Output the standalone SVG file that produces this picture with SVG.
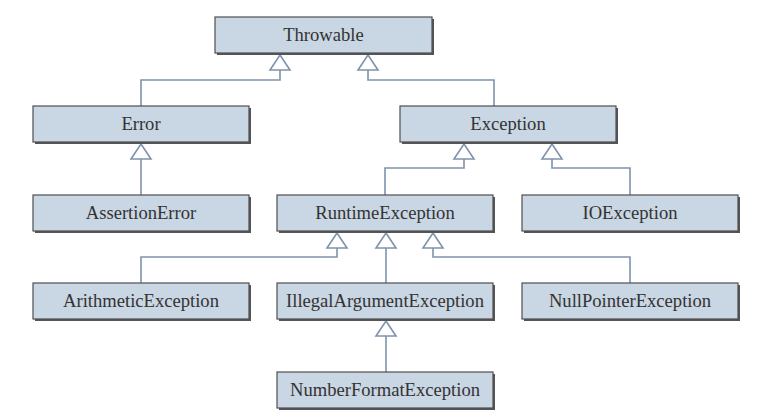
<svg xmlns="http://www.w3.org/2000/svg" width="760" height="418" viewBox="0 0 760 418">
<style>
.box{fill:#c9d6e4;stroke:#4f4f4f;stroke-width:1.2}
.shadow{fill:#555}
.lbl{font-family:"Liberation Serif","Times New Roman",serif;font-size:18.6px;fill:#333;text-anchor:middle}
.conn{fill:none;stroke:#7f93ac;stroke-width:1.6;marker-end:url(#tri)}
</style>
<defs>
<marker id="tri" markerUnits="userSpaceOnUse" markerWidth="20" markerHeight="24" refX="15" refY="0" orient="auto" overflow="visible">
<path d="M0,-10 L15,0 L0,10 Z" fill="#fff" stroke="#7f93ac" stroke-width="1.6"/>
</marker>
</defs>
<rect width="760" height="418" fill="#fff"/>
<g id="connectors">
<path class="conn" d="M141,106 V80 H280 V55"/>
<path class="conn" d="M494,106 V80 H368 V55"/>
<path class="conn" d="M141,195 V144"/>
<path class="conn" d="M385,195 V168 H464 V144"/>
<path class="conn" d="M630,195 V168 H552 V144"/>
<path class="conn" d="M141,283 V257 H337 V233"/>
<path class="conn" d="M386,283 V233"/>
<path class="conn" d="M630,283 V257 H433 V233"/>
<path class="conn" d="M386,372 V321"/>
</g>
<g id="Throwable"><rect class="shadow" x="217" y="19" width="217" height="36"/><rect class="box" x="215" y="17" width="217" height="36"/><text class="lbl" x="323.5" y="41">Throwable</text></g>
<g id="Error"><rect class="shadow" x="35" y="108" width="216" height="36"/><rect class="box" x="33" y="106" width="216" height="36"/><text class="lbl" x="141" y="130">Error</text></g>
<g id="Exception"><rect class="shadow" x="402" y="108" width="216" height="36"/><rect class="box" x="400" y="106" width="216" height="36"/><text class="lbl" x="508" y="130">Exception</text></g>
<g id="AssertionError"><rect class="shadow" x="35" y="197" width="216" height="36"/><rect class="box" x="33" y="195" width="216" height="36"/><text class="lbl" x="141" y="219">AssertionError</text></g>
<g id="RuntimeException"><rect class="shadow" x="279" y="197" width="216" height="36"/><rect class="box" x="277" y="195" width="216" height="36"/><text class="lbl" x="385" y="219">RuntimeException</text></g>
<g id="IOException"><rect class="shadow" x="524" y="197" width="216" height="36"/><rect class="box" x="522" y="195" width="216" height="36"/><text class="lbl" x="630" y="219">IOException</text></g>
<g id="ArithmeticException"><rect class="shadow" x="35" y="285" width="216" height="36"/><rect class="box" x="33" y="283" width="216" height="36"/><text class="lbl" x="141" y="307">ArithmeticException</text></g>
<g id="IllegalArgumentException"><rect class="shadow" x="279" y="285" width="216" height="36"/><rect class="box" x="277" y="283" width="216" height="36"/><text class="lbl" x="385" y="307">IllegalArgumentException</text></g>
<g id="NullPointerException"><rect class="shadow" x="524" y="285" width="216" height="36"/><rect class="box" x="522" y="283" width="216" height="36"/><text class="lbl" x="630" y="307">NullPointerException</text></g>
<g id="NumberFormatException"><rect class="shadow" x="279" y="374" width="216" height="36"/><rect class="box" x="277" y="372" width="216" height="36"/><text class="lbl" x="385" y="396">NumberFormatException</text></g>
</svg>
